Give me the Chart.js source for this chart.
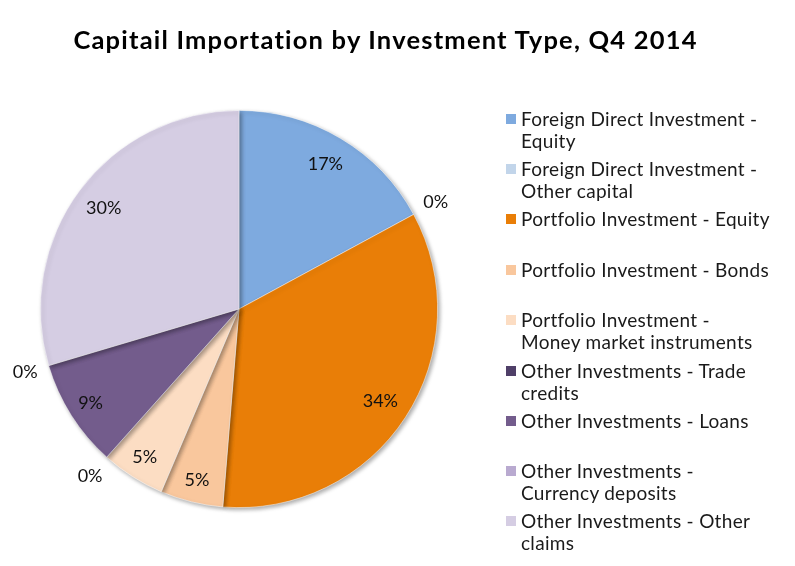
<!DOCTYPE html>
<html>
<head>
<meta charset="utf-8">
<script src="https://cdn.jsdelivr.net/npm/chart.js@4.4.1/dist/chart.umd.min.js"></script>
<style>
  html, body { margin:0; padding:0; background:#fff; }
  #wrap { position:relative; width:795px; height:566px; overflow:hidden; }
  #c { position:absolute; left:0; top:0; }
  #title { position:absolute; left:0; width:795px; top:24px; text-align:center;
           font-family: Lato, "Open Sans", sans-serif; font-weight:700; font-size:25.5px; letter-spacing:1.2px; color:#000; margin-left:-12px; }
  #legend { position:absolute; left:506px; top:108px; font-family: Lato, "Open Sans", sans-serif; color:#1a1a1a; }
  .item { position:absolute; left:0; width:285px; font-size:19px; letter-spacing:0.3px; line-height:22px; }
  .sw { position:absolute; left:0; top:6px; width:10px; height:10px; }
  .tx { position:absolute; left:15px; top:0; width:270px; white-space:nowrap; }
</style>
</head>
<body>
<div id="wrap">
  <canvas id="c" width="795" height="566"></canvas>
  <div id="title"></div>
  <div id="legend"></div>
</div>
<script>
const chartTitle = "Capitail Importation by Investment Type, Q4 2014";
const categories = [
  ["Foreign Direct Investment -", "Equity"],
  ["Foreign Direct Investment -", "Other capital"],
  ["Portfolio Investment - Equity"],
  ["Portfolio Investment - Bonds"],
  ["Portfolio Investment -", "Money market instruments"],
  ["Other Investments - Trade", "credits"],
  ["Other Investments - Loans"],
  ["Other Investments -", "Currency deposits"],
  ["Other Investments - Other", "claims"]
];
const shares = [17.1, 0, 34.2, 5.1, 5.2, 0, 8.8, 0, 29.6];
const colors = ["#7EAADF", "#C2D5EA", "#E97E07", "#F9C79D", "#FCDDC3", "#4F3F68", "#735C8C", "#B9AAD0", "#D5CDE3"];

document.getElementById('title').textContent = chartTitle;

const total = shares.reduce((a, b) => a + b, 0);

const pieShadow = {
  id: 'pieShadow',
  beforeDatasetDraw(chart) {
    const ctx = chart.ctx;
    ctx.save();
    ctx.shadowColor = 'rgba(0,0,0,0.35)';
    ctx.shadowBlur = 4;
    ctx.shadowOffsetX = 2;
    ctx.shadowOffsetY = 2;
  },
  afterDatasetDraw(chart) {
    chart.ctx.restore();
  }
};

const pctLabels = {
  id: 'pctLabels',
  afterDatasetsDraw(chart) {
    const ctx = chart.ctx;
    const meta = chart.getDatasetMeta(0);
    ctx.save();
    ctx.font = '18px Lato, "Open Sans", sans-serif';
    ctx.fillStyle = '#111';
    ctx.textAlign = 'center';
    ctx.textBaseline = 'middle';
    meta.data.forEach((arc, i) => {
      const v = chart.data.datasets[0].data[i];
      const frac = v / total;
      const txt = Math.round(frac * 100) + '%';
      const p = arc.getProps(['x', 'y', 'startAngle', 'endAngle', 'outerRadius'], true);
      const mid = (p.startAngle + p.endAngle) / 2;
      const c = Math.cos(mid), s = Math.sin(mid);
      let d;
      if (frac < 0.01) {
        const hw = ctx.measureText(txt).width / 2, hh = 9;
        d = p.outerRadius + 10 + hw * Math.abs(c) + hh * Math.abs(s);
      } else {
        d = p.outerRadius * 0.85 + (frac < 0.1 ? 7 : 0);
      }
      ctx.fillText(txt, p.x + c * d, p.y + s * d);
    });
    ctx.restore();
  }
};

const chart = new Chart(document.getElementById('c'), {
  type: 'pie',
  data: {
    labels: categories.map(l => l.join(' ')),
    datasets: [{
      data: shares,
      backgroundColor: colors,
      borderColor: 'rgba(255,255,255,0.6)',
      borderWidth: 0.8
    }]
  },
  options: {
    responsive: false,
    animation: false,
    layout: { padding: { left: 40, top: 110, right: 357, bottom: 58 } },
    plugins: {
      legend: { display: false },
      title: { display: false },
      tooltip: { enabled: false }
    }
  },
  plugins: [pieShadow, pctLabels]
});

// HTML legend built from the chart data
const legend = document.getElementById('legend');
const itemTops = [0, 50, 100, 151, 201, 252, 302, 352, 402];
categories.forEach((lines, i) => {
  const it = document.createElement('div');
  it.className = 'item';
  it.style.top = itemTops[i] + 'px';
  const sw = document.createElement('div');
  sw.className = 'sw';
  sw.style.background = chart.data.datasets[0].backgroundColor[i];
  const tx = document.createElement('div');
  tx.className = 'tx';
  tx.innerHTML = lines.map(t => t.replace(/&/g, '&amp;')).join('<br>');
  it.appendChild(sw); it.appendChild(tx);
  legend.appendChild(it);
});
</script>
</body>
</html>
